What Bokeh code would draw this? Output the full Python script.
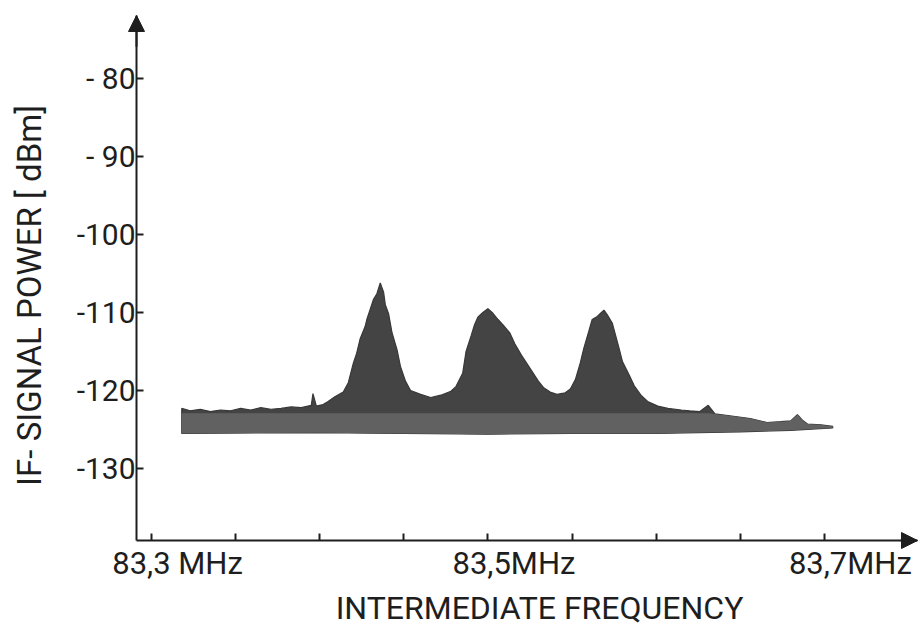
import numpy as np
from bokeh.plotting import figure
from bokeh.models import FixedTicker, Range1d, Arrow, NormalHead, LinearAxis
from bokeh.embed import file_html
from bokeh.resources import INLINE

# ---- data ----
upper_freq = [83.318, 83.323, 83.329, 83.335, 83.341, 83.347, 83.353, 83.359, 83.365, 83.371,
              83.377, 83.383, 83.389, 83.395, 83.396, 83.398, 83.402, 83.405, 83.409, 83.414,
              83.417, 83.420, 83.422, 83.424, 83.427, 83.428, 83.430, 83.432, 83.434, 83.436,
              83.438, 83.439, 83.441, 83.443, 83.446, 83.448, 83.451, 83.454, 83.460, 83.466,
              83.472, 83.478, 83.481, 83.485, 83.487, 83.490, 83.492, 83.494, 83.497, 83.500,
              83.503, 83.506, 83.509, 83.513, 83.516, 83.520, 83.524, 83.527, 83.530, 83.533,
              83.537, 83.541, 83.546, 83.549, 83.552, 83.555, 83.557, 83.560, 83.562, 83.565,
              83.567, 83.569, 83.571, 83.574, 83.576, 83.578, 83.580, 83.584, 83.587, 83.591,
              83.595, 83.601, 83.607, 83.615, 83.620, 83.626, 83.631, 83.635, 83.646, 83.656,
              83.666, 83.674, 83.680, 83.684, 83.687, 83.690, 83.698, 83.705]
upper_dbm = [-122.3, -122.6, -122.4, -122.7, -122.5, -122.6, -122.3, -122.5, -122.2, -122.4,
             -122.3, -122.1, -122.2, -121.9, -120.4, -122.0, -121.8, -121.4, -120.8, -120.2,
             -119.0, -116.5, -115.2, -113.4, -111.8, -110.9, -109.6, -108.3, -107.6, -106.2,
             -107.4, -109.0, -110.2, -112.6, -114.8, -116.9, -118.8, -120.0, -120.5, -120.9,
             -120.6, -120.1, -119.5, -117.8, -115.0, -113.0, -111.6, -110.6, -110.0, -109.5,
             -110.1, -110.9, -111.6, -112.6, -114.0, -115.5, -116.8, -117.8, -118.8, -119.6,
             -120.2, -120.5, -120.3, -119.8, -118.6, -116.4, -114.6, -112.4, -110.9, -110.5,
             -110.1, -109.7, -110.3, -111.4, -113.0, -114.6, -116.3, -118.0, -119.4, -120.6,
             -121.4, -122.0, -122.3, -122.5, -122.6, -122.7, -121.9, -123.0, -123.3, -123.6,
             -124.1, -124.0, -123.9, -123.1, -123.8, -124.3, -124.4, -124.6]

lower_freq = [83.318, 83.400, 83.450, 83.500, 83.550, 83.600, 83.650, 83.680, 83.705]
lower_dbm = [-125.5, -125.4, -125.5, -125.6, -125.5, -125.5, -125.3, -125.1, -124.8]

y_ticks = [-80, -90, -100, -110, -120, -130]
y_tick_labels = {-80: "- 80", -90: "- 90", -100: "-100", -110: "-110", -120: "-120", -130: "-130"}
x_ticks = [83.30, 83.35, 83.40, 83.45, 83.50, 83.55, 83.60, 83.65, 83.70]
x_label_values = [83.3, 83.5, 83.7]
x_label_texts = {83.3: "83,3 MHz", 83.5: "83,5MHz", 83.7: "83,7MHz"}

FONT = "Roboto"
INK = "#1e1e1e"

# axis origin, axis ends and the visible span
x_axis_at = 83.2911     # frequency where the vertical axis stands
y_axis_at = -139.23     # level where the horizontal axis lies
x_axis_end = 83.7554    # tip of the frequency arrow
y_axis_end = -71.92     # tip of the power arrow
x0, x1 = 83.21023, 83.7560
y0, y1 = -150.64, -70.0
label_shift = 0.0155            # frequency labels sit a little right of their ticks
x_title_span = (83.29, 83.766)  # centres the frequency title
y_title_span = (-139.23, -76.41)  # centres the power title
floor_level = -122.9            # below this the trace is drawn in a lighter grey

p = figure(width=918, height=629, output_backend="svg", toolbar_location=None,
           x_range=Range1d(x0, x1), y_range=Range1d(y0, y1),
           min_border_left=0, min_border_right=0, min_border_top=0, min_border_bottom=0)
p.title.visible = False
p.outline_line_color = None
p.grid.grid_line_color = None
p.background_fill_color = "white"
p.border_fill_color = "white"

# spectrum band (dark peaks, lighter noise floor)
px = list(upper_freq) + list(reversed(lower_freq))
py = list(upper_dbm) + list(reversed(lower_dbm))
p.patch(px, py, fill_color="#444444", line_color="#383838", line_width=1.2)
floor_top = list(np.minimum(np.array(upper_dbm), floor_level))
p.patch(px, floor_top + list(reversed(lower_dbm)), fill_color="#616161", line_color=None)

# ---- axes ----
ya = p.yaxis[0]
ya.fixed_location = x_axis_at
ya.bounds = (y_axis_at, y_axis_end)
ya.ticker = FixedTicker(ticks=y_ticks)
ya.major_label_overrides = y_tick_labels
ya.major_tick_in = 7
ya.major_tick_out = 0
ya.minor_tick_line_color = None
ya.axis_line_width = 2
ya.axis_line_color = INK
ya.major_tick_line_width = 2
ya.major_tick_line_color = INK
ya.major_label_text_font = FONT
ya.major_label_text_font_size = "30px"
ya.major_label_text_color = INK
ya.major_label_standoff = 1

# title of the power axis on its own label-only axis
ta = LinearAxis(fixed_location=x_axis_at, bounds=y_title_span, ticker=FixedTicker(ticks=[]))
ta.axis_line_color = None
ta.major_tick_line_color = None
ta.minor_tick_line_color = None
ta.axis_label = "IF- SIGNAL POWER [ dBm]"
ta.axis_label_text_font = FONT
ta.axis_label_text_font_size = "33px"
ta.axis_label_text_font_style = "normal"
ta.axis_label_text_color = INK
ta.axis_label_standoff = 88
p.add_layout(ta, "left")

xa = p.xaxis[0]
xa.fixed_location = y_axis_at
xa.bounds = (x_axis_at, x_axis_end)
xa.ticker = FixedTicker(ticks=x_ticks)
xa.major_tick_in = 7
xa.major_tick_out = 0
xa.minor_tick_line_color = None
xa.axis_line_width = 2
xa.axis_line_color = INK
xa.major_tick_line_width = 2
xa.major_tick_line_color = INK
xa.major_label_text_font_size = "0px"
xa.major_label_text_color = None

# frequency labels: a second bottom axis on a slightly shifted range
p.extra_x_ranges = {"labels": Range1d(x0 - label_shift, x1 - label_shift)}
la = LinearAxis(x_range_name="labels", fixed_location=y_axis_at, bounds=x_title_span)
la.ticker = FixedTicker(ticks=x_label_values)
la.major_label_overrides = x_label_texts
la.axis_line_color = None
la.major_tick_line_color = None
la.minor_tick_line_color = None
la.major_tick_in = 0
la.major_tick_out = 0
la.major_label_standoff = 4
la.major_label_text_font = FONT
la.major_label_text_font_size = "31px"
la.major_label_text_color = INK
la.axis_label = "INTERMEDIATE FREQUENCY"
la.axis_label_text_font = FONT
la.axis_label_text_font_size = "32px"
la.axis_label_text_font_style = "normal"
la.axis_label_text_color = INK
la.axis_label_standoff = 4
p.add_layout(la, "below")

# arrow heads at the ends of the axes
p.add_layout(Arrow(end=NormalHead(size=16, fill_color=INK, line_color=INK),
                   x_start=x_axis_at, y_start=y_axis_end - 4, x_end=x_axis_at, y_end=y_axis_end,
                   line_color=INK, line_width=2))
p.add_layout(Arrow(end=NormalHead(size=16, fill_color=INK, line_color=INK),
                   x_start=x_axis_end - 0.01, y_start=y_axis_at, x_end=x_axis_end, y_end=y_axis_at,
                   line_color=INK, line_width=2))

open("out.html", "w").write(file_html(p, INLINE))
